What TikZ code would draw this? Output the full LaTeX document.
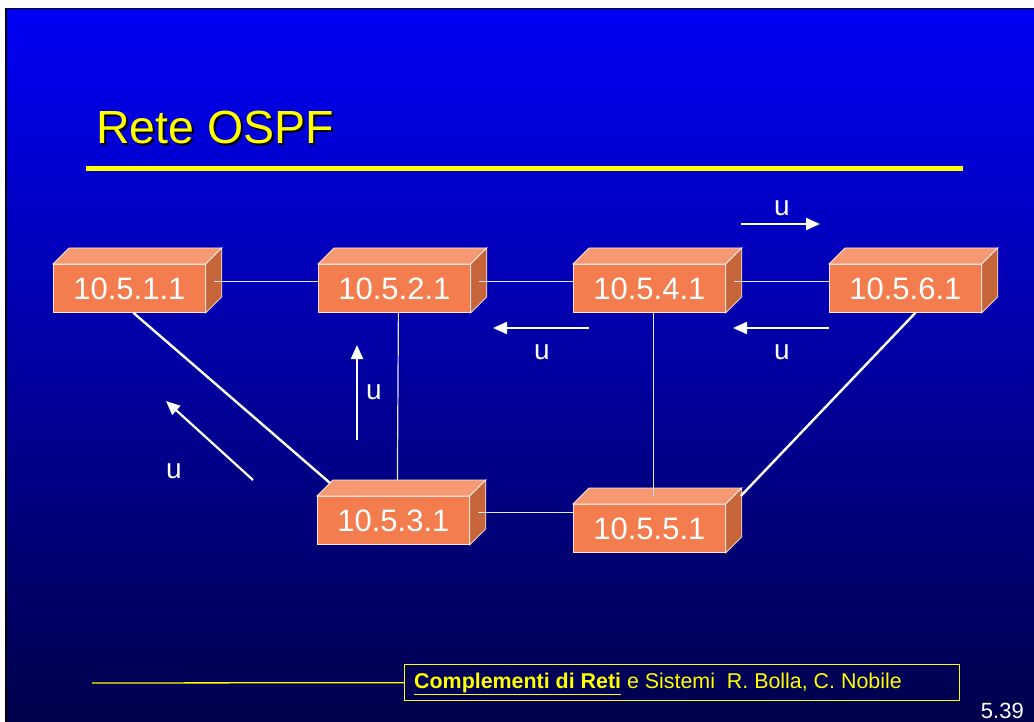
\documentclass[tikz,border=0pt]{standalone}
\usepackage{fontspec}
\setmainfont{Liberation Sans}
\usetikzlibrary{calc,arrows.meta}
\definecolor{bgtop}{RGB}{0,0,245}
\definecolor{bgbot}{RGB}{0,0,75}
\definecolor{frontf}{RGB}{243,125,78}
\definecolor{topf}{RGB}{246,152,114}
\definecolor{sidef}{RGB}{198,100,58}
\definecolor{edgec}{RGB}{245,230,220}
\definecolor{ylw}{RGB}{255,255,0}
\definecolor{linkc}{RGB}{230,230,240}
\newcommand{\routerfaces}[1]{%
  \filldraw[fill=topf,draw=edgec,line width=0.8pt] (#1.north west) -- ++(16,-16) -- ($(#1.north east)+(16,-16)$) -- (#1.north east) -- cycle;
  \filldraw[fill=sidef,draw=edgec,line width=0.8pt] (#1.north east) -- ++(16,-16) -- ($(#1.south east)+(16,-16)$) -- (#1.south east) -- cycle;}
\begin{document}
\begin{tikzpicture}[x=1pt,y=-1pt,
  router/.style={draw=edgec,line width=0.8pt,fill=frontf,minimum width=152pt,minimum height=48pt,
    inner sep=0pt,text=white,font=\fontsize{31}{31}\selectfont,anchor=north west},
  thinlink/.style={draw=linkc,line width=1.2pt},
  thicklink/.style={draw=white,line width=2.4pt},
  flow/.style={draw=white,line width=2.2pt,-{Triangle[length=14pt,width=12pt]}},
  ulabel/.style={text=white,font=\fontsize{28}{28}\selectfont,inner sep=0pt}]
\useasboundingbox (0,0) rectangle (1034,722);
\fill[white] (0,0) rectangle (1034,722);
\fill[black] (5,8) rectangle (1034,722);
\shade[top color=bgtop,bottom color=bgbot] (7,10) rectangle (1034,722);
% title
\node[anchor=base west,inner sep=0pt,text=black,font=\fontsize{46.5}{46.5}\selectfont] (titleshadow) at (98,146) {Rete OSPF};
\node[anchor=base west,inner sep=0pt,text=ylw,font=\fontsize{46.5}{46.5}\selectfont] (title) at (96,144) {Rete OSPF};
\fill[ylw] (86,166) rectangle (963,171);
% routers
\node[router] (r11) at (53,264) {10.5.1.1};
\routerfaces{r11}
\node[router] (r21) at (318,264) {10.5.2.1};
\routerfaces{r21}
\node[router] (r41) at (573,264) {10.5.4.1};
\routerfaces{r41}
\node[router] (r61) at (829,264) {10.5.6.1};
\routerfaces{r61}
\node[router] (r31) at (317,496) {10.5.3.1};
\routerfaces{r31}
\node[router] (r51) at (573,504) {10.5.5.1};
\routerfaces{r51}
% links
\draw[thinlink] ($(r11.east)+(8,-7)$) -- ($(r21.west)+(0,-7)$);
\draw[thinlink] ($(r21.east)+(8,-7)$) -- ($(r41.west)+(0,-7)$);
\draw[thinlink] ($(r41.east)+(8,-7)$) -- ($(r61.west)+(0,-7)$);
\draw[thinlink] ($(r31.east)+(8,-8)$) -- ($(r51.west)+(0,-16)$);
\draw[thinlink] ($(r21.south)+(4,0)$) -- ($(r31.north)+(4,-16)$);
\draw[thinlink] ($(r41.south)+(4,0)$) -- ($(r51.north)+(4,-8)$);
\draw[thicklink] ($(r11.south)+(4,0)$) -- ($(r31.north west)+(13,-13)$);
\draw[thicklink] ($(r61.south)+(10,0)$) -- ($(r51.north east)+(15,-8)$);
% flows
\coordinate (fa1) at (741,224); \coordinate (fa2) at (820,224);
\draw[flow] (fa1) -- (fa2);
\node[ulabel] (ua) at (782,208) {u};
\coordinate (fb1) at (829,328); \coordinate (fb2) at (733,328);
\draw[flow] (fb1) -- (fb2);
\node[ulabel] (ub) at (782,352) {u};
\coordinate (fc1) at (589,328); \coordinate (fc2) at (493,328);
\draw[flow] (fc1) -- (fc2);
\node[ulabel] (uc) at (542,352) {u};
\coordinate (fd1) at (357,440); \coordinate (fd2) at (357,345);
\draw[flow] (fd1) -- (fd2);
\node[ulabel] (ud) at (374,392) {u};
\coordinate (fe1) at (253,480); \coordinate (fe2) at (166,401);
\draw[flow] (fe1) -- (fe2);
\node[ulabel] (ue) at (174,471) {u};
% footer
\node[draw=ylw,line width=1.3pt,minimum width=555pt,minimum height=36pt,anchor=north west,inner sep=0pt] (foot) at (404,664) {};
\draw[ylw,line width=1.3pt] (92,683) -- (foot.west);
\node[anchor=west,inner sep=0pt,text=ylw,font=\fontsize{21.4}{21.4}\selectfont] (foottext) at (414,684)
  {\textbf{\underline{Complementi di Reti}} e Sistemi\ \ R. Bolla, C. Nobile};
\node[anchor=base east,inner sep=0pt,text=white,font=\fontsize{22}{22}\selectfont] (pagenum) at (1024,718) {5.39};
\end{tikzpicture}
\end{document}
